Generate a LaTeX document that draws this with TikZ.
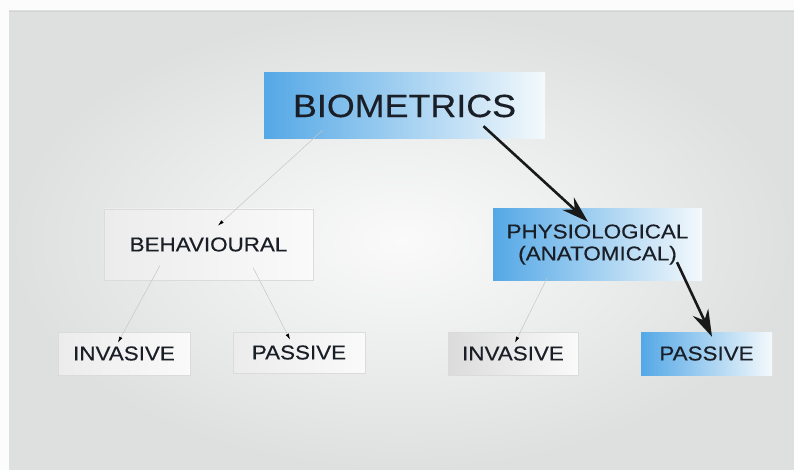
\documentclass[tikz,border=0pt]{standalone}
\usepackage{fontspec}
\newfontfamily\boxfont{Liberation Sans}[FakeStretch=1.12, FakeBold=0.4]
\usepackage{tikz}
\usetikzlibrary{calc, arrows.meta}

\definecolor{paneledge}{RGB}{222,224,224}
\definecolor{panelmid}{RGB}{250,250,250}
\definecolor{bluedeep}{RGB}{84,168,230}
\definecolor{bluemid}{RGB}{165,208,240}
\definecolor{bluepale}{RGB}{244,249,252}
\definecolor{boxtext}{RGB}{26,30,38}

\begin{document}
\begin{tikzpicture}
    [x=1pt, y=-1pt,
     every node/.style={font=\boxfont, text=boxtext, inner sep=0pt, align=center},
     bigtext/.style={font=\boxfont\fontsize{32}{36}\selectfont},
     boxtext/.style={font=\boxfont\fontsize{20}{22}\selectfont},
     bluebox/.style={left color=bluedeep, middle color=bluemid, right color=bluepale},
     greybox/.style={left color=gray!15, right color=gray!4, draw=gray!28, line width=0.8pt},
     thinlink/.style={draw=gray!45, line width=0.5pt, -{Latex[color=black, length=6pt, width=3.5pt]}},
     boldlink/.style={draw=black!90, line width=2.6pt, -{Stealth[length=27pt, width=17pt, inset=9pt]}}]

    \useasboundingbox (0,0) rectangle (794,470);

    % backdrop
    \fill[white!98!gray] (0,0) rectangle (794,470);
    \shade[inner color=panelmid, outer color=paneledge] (9,11) rectangle (794,470);
    \draw[gray!35, line width=0.8pt] (9,11) -- (794,11);

    % top level
    \node[bluebox, bigtext, minimum width=281pt, minimum height=66pt] (bio) at (404.5,106) {BIOMETRICS};

    % second level
    \node[greybox, boxtext, minimum width=209pt, minimum height=71pt] (beh) at (208.5,244.5) {BEHAVIOURAL};
    \node[bluebox, boxtext, minimum width=209pt, minimum height=71pt] (phy) at (597.5,244.5) {PHYSIOLOGICAL\\(ANATOMICAL)};

    % third level
    \node[greybox, boxtext, minimum width=132pt, minimum height=43pt] (behinv) at (124,353.5) {INVASIVE};
    \node[greybox, boxtext, minimum width=132pt, minimum height=41pt] (behpas) at (299,352.5) {PASSIVE};
    \node[greybox, left color=gray!28, boxtext, minimum width=130pt, minimum height=43pt] (phyinv) at (513,353.5) {INVASIVE};
    \node[bluebox, boxtext, minimum width=131pt, minimum height=43pt] (phypas) at (706.5,353.5) {PASSIVE};

    % links
    \draw[thinlink] ($(bio.south)+(-82,-9)$) -- ($(beh.north)+(9.5,17)$);
    \draw[boldlink] ($(bio.south)+(79,-13)$) -- ($(phy.north)+(-9.5,13)$);
    \draw[thinlink] ($(beh.south)+(-48.5,-15)$) -- ($(behinv.north)+(-6,11)$);
    \draw[thinlink] ($(beh.south)+(44.5,-13)$) -- ($(behpas.north)+(-9,8)$);
    \draw[thinlink] ($(phy.south)+(-50.5,-2)$) -- ($(phyinv.north)+(2,11)$);
    \draw[boldlink] ($(phy.south)+(79.5,-18)$) -- ($(phypas.north)+(5.5,5)$);
  \end{tikzpicture}
\end{document}
